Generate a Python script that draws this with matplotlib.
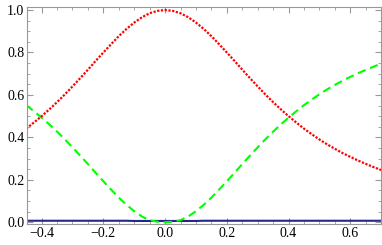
import matplotlib
matplotlib.use('Agg')
import matplotlib.pyplot as plt
from matplotlib.ticker import MultipleLocator
import numpy as np

# values
x = np.array([-0.45, -0.425, -0.40, -0.375, -0.35, -0.325, -0.30, -0.275, -0.25, -0.225,
              -0.20, -0.175, -0.15, -0.125, -0.10, -0.075, -0.05, -0.025, 0.0,
              0.025, 0.05, 0.075, 0.10, 0.125, 0.15, 0.175, 0.20, 0.225, 0.25,
              0.275, 0.30, 0.325, 0.35, 0.375, 0.40, 0.425, 0.45, 0.475, 0.50,
              0.525, 0.55, 0.575, 0.60, 0.625, 0.65, 0.675, 0.70])
red = [0.441, 0.470, 0.500, 0.532, 0.566, 0.602, 0.640, 0.679, 0.719, 0.760,
       0.800, 0.839, 0.877, 0.911, 0.941, 0.966, 0.985, 0.996, 1.000,
       0.996, 0.985, 0.966, 0.941, 0.911, 0.877, 0.839, 0.800, 0.760, 0.719,
       0.679, 0.640, 0.602, 0.566, 0.532, 0.500, 0.470, 0.441, 0.415, 0.390,
       0.367, 0.346, 0.326, 0.308, 0.291, 0.275, 0.260, 0.246]
green = [0.552, 0.523, 0.493, 0.461, 0.427, 0.391, 0.353, 0.314, 0.274, 0.233,
         0.193, 0.154, 0.116, 0.082, 0.052, 0.027, 0.010, 0.002, 0.000,
         0.002, 0.010, 0.027, 0.052, 0.082, 0.116, 0.154, 0.193, 0.233, 0.274,
         0.314, 0.353, 0.391, 0.427, 0.461, 0.493, 0.523, 0.552, 0.578, 0.603,
         0.626, 0.647, 0.667, 0.685, 0.702, 0.718, 0.733, 0.747]
blue = [0.007, 0.007, 0.007, 0.007, 0.007, 0.007, 0.007, 0.007, 0.007, 0.007,
        0.007, 0.007, 0.007, 0.007, 0.006, 0.006, 0.006, 0.006, 0.006,
        0.006, 0.006, 0.006, 0.006, 0.007, 0.007, 0.007, 0.007, 0.007, 0.007,
        0.007, 0.007, 0.007, 0.007, 0.007, 0.007, 0.007, 0.007, 0.007, 0.007,
        0.007, 0.007, 0.007, 0.007, 0.007, 0.007, 0.007, 0.007]

plt.rcParams['font.family'] = ['Liberation Serif', 'DejaVu Serif']
plt.rcParams['axes.unicode_minus'] = True

fig = plt.figure(figsize=(3.82, 2.45), dpi=100)
ax = fig.add_axes([0.071, 0.086, 0.926, 0.886])

ax.plot(x, blue, color='#26268c', lw=1.5)
ax.plot(x, green, color='#00ff00', lw=1.5, linestyle=(0, (4, 2.3)))
ax.plot(x, red, color='#ff0000', lw=1.6, linestyle=(0, (1, 0.7)))

ax.set_xlim(-0.447, 0.699)
ax.set_ylim(-0.008, 1.015)

ax.xaxis.set_major_locator(MultipleLocator(0.2))
ax.xaxis.set_minor_locator(MultipleLocator(0.05))
ax.yaxis.set_major_locator(MultipleLocator(0.2))
ax.yaxis.set_minor_locator(MultipleLocator(0.05))
ax.xaxis.set_major_formatter(plt.FuncFormatter(lambda v, p: f'{v:.1f}'.replace('-', '\u2212') if abs(v) > 1e-9 else '0.0'))
ax.yaxis.set_major_formatter(plt.FuncFormatter(lambda v, p: f'{abs(v):.1f}'))

fc = '#999999'
for s in ax.spines.values():
    s.set_color(fc)
    s.set_linewidth(0.8)
ax.tick_params(which='both', direction='in', top=True, right=True, color=fc,
               labelsize=10, labelcolor='black', pad=2)
ax.tick_params(which='major', length=4, width=0.8)
ax.tick_params(which='minor', length=2, width=0.6)

fig.savefig('out.png', dpi=100)
